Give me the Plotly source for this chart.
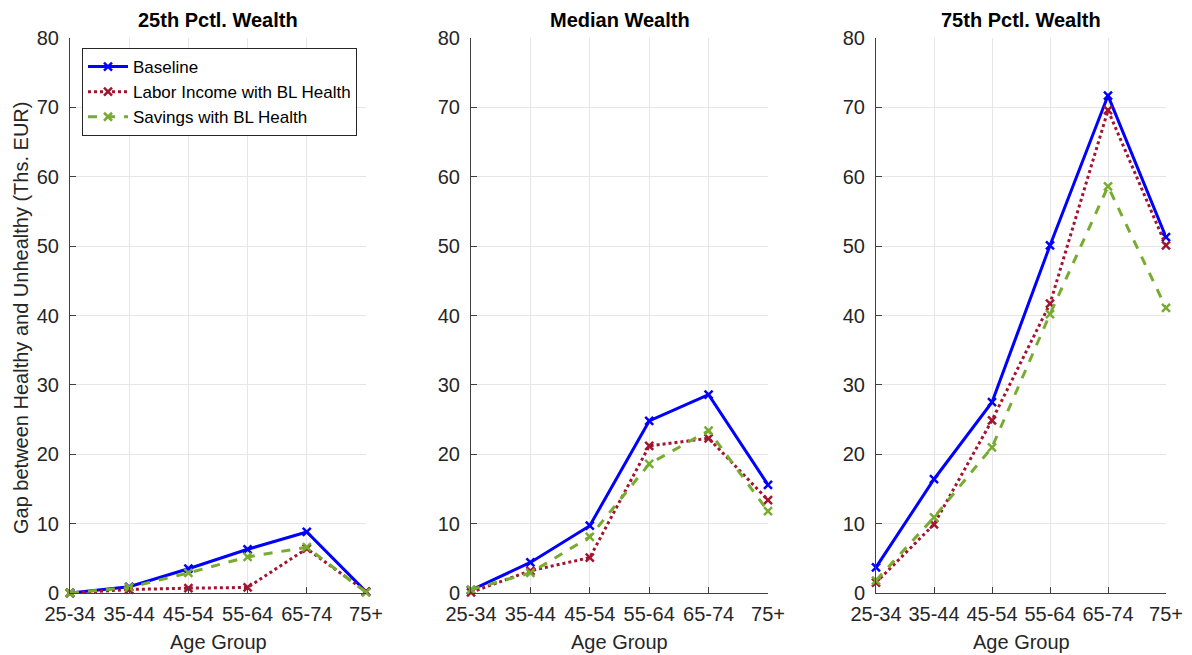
import plotly.graph_objects as go

age_groups = ['25-34', '35-44', '45-54', '55-64', '65-74', '75+']
panel_titles = ['25th Pctl. Wealth', 'Median Wealth', '75th Pctl. Wealth']
series_names = ['Baseline', 'Labor Income with BL Health', 'Savings with BL Health']

# gap between healthy and unhealthy, thousands EUR
p25_baseline = [0.0, 0.9, 3.5, 6.3, 8.8, 0.2]
p25_labor = [0.0, 0.5, 0.7, 0.8, 6.4, 0.2]
p25_savings = [0.0, 0.8, 2.9, 5.2, 6.6, 0.1]

p50_baseline = [0.4, 4.4, 9.7, 24.8, 28.6, 15.6]
p50_labor = [0.1, 3.2, 5.1, 21.2, 22.3, 13.4]
p50_savings = [0.5, 2.9, 8.1, 18.6, 23.4, 11.8]

p75_baseline = [3.7, 16.4, 27.5, 50.1, 71.7, 51.3]
p75_labor = [1.5, 9.9, 24.9, 41.7, 69.6, 50.1]
p75_savings = [1.8, 10.9, 21.0, 40.2, 58.6, 41.1]

panels = [
    [p25_baseline, p25_labor, p25_savings],
    [p50_baseline, p50_labor, p50_savings],
    [p75_baseline, p75_labor, p75_savings],
]

colors = ['#0000FF', '#A2142F', '#77AC30']
dashes = ['solid', 'dot', 'dash']

# page body has an 8px margin, so the figure is shifted by that much
OFF = 8
W, H = 1192 - 2 * OFF, 655 - OFF
x_px = [(70, 366), (471, 768), (876, 1166)]   # screen pixels
y_top, y_bot = 38, 593
font = 'Liberation Sans, Arial, sans-serif'
txt = '#262626'


def px(sx):
    return (sx - OFF) / W


def py(sy):
    return 1 - (sy - OFF) / H


fig = go.Figure()
xpos = list(range(len(age_groups)))

for i, series in enumerate(panels):
    ax = '' if i == 0 else str(i + 1)
    for j, vals in enumerate(series):
        fig.add_trace(go.Scatter(
            x=xpos, y=vals,
            mode='lines+markers',
            name=series_names[j],
            showlegend=(i == 0),
            line=dict(color=colors[j], width=3, dash=dashes[j]),
            marker=dict(symbol='x-thin', size=8,
                        line=dict(color=colors[j], width=2.5)),
            xaxis='x' + ax, yaxis='y' + ax,
            cliponaxis=False,
        ))
    l, r = x_px[i]
    axis_common = dict(
        showgrid=True, gridcolor='#e6e6e6', gridwidth=1,
        showline=True, linecolor='#404040', linewidth=1,
        ticks='inside', ticklen=6, tickcolor='#404040',
        tickfont=dict(family=font, size=20, color=txt),
        zeroline=False, automargin=False, ticklabeloverflow='allow',
    )
    fig.layout['xaxis' + ax] = dict(
        axis_common,
        domain=[px(l), px(r)], anchor='y' + ax,
        range=[0, 5], tickvals=xpos, ticktext=age_groups,
        ticklabelstandoff=3,
    )
    fig.layout['yaxis' + ax] = dict(
        axis_common,
        domain=[py(y_bot), py(y_top)], anchor='x' + ax,
        range=[0, 80], dtick=10,
        ticklabelstandoff=6,
    )
    fig.add_annotation(
        text='<b>' + panel_titles[i] + '</b>',
        x=px((l + r) / 2), y=py(20), xref='paper', yref='paper',
        xanchor='center', yanchor='middle',
        showarrow=False, font=dict(family=font, size=20, color='black'),
    )
    fig.add_annotation(
        text='Age Group',
        x=px((l + r) / 2), y=py(642), xref='paper', yref='paper',
        xanchor='center', yanchor='middle',
        showarrow=False, font=dict(family=font, size=20, color=txt),
    )

fig.add_annotation(
    text='Gap between Healthy and Unhealthy (Ths. EUR)',
    x=px(21), y=py(318), xref='paper', yref='paper',
    xanchor='center', yanchor='middle', textangle=-90,
    showarrow=False, font=dict(family=font, size=20, color=txt),
)

fig.update_layout(
    width=W, height=H,
    margin=dict(l=0, r=0, t=0, b=0),
    plot_bgcolor='white', paper_bgcolor='white',
    legend=dict(
        x=px(82), y=py(48), xanchor='left', yanchor='top',
        bgcolor='white', bordercolor='#262626', borderwidth=1,
        font=dict(family=font, size=17, color='black'),
        tracegroupgap=0, itemwidth=40,
    ),
)

fig.write_html('out.html')
